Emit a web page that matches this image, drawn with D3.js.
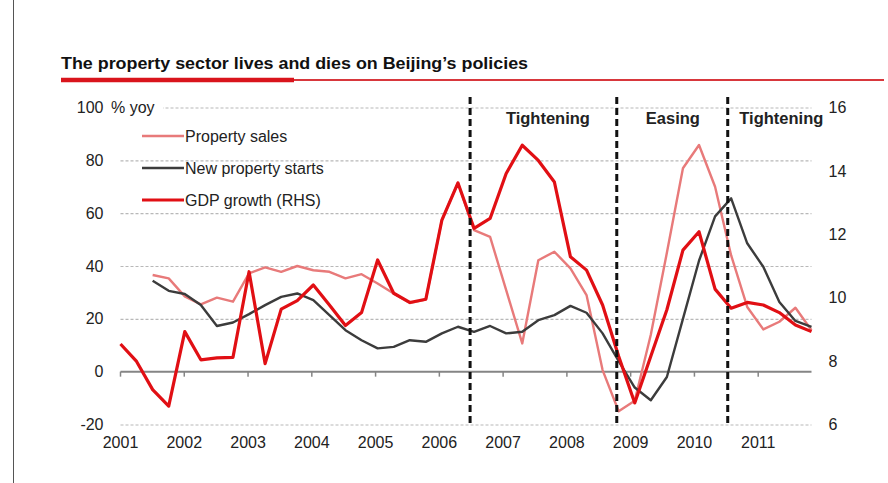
<!DOCTYPE html>
<html>
<head>
<meta charset="utf-8">
<title>The property sector lives and dies on Beijing's policies</title>
<script src="https://cdn.jsdelivr.net/npm/d3@7"></script>
<style>
  * { margin: 0; padding: 0; }
  body { background: #fff; }
  svg { display: block; font-family: "Liberation Sans", Arial, sans-serif; }
</style>
</head>
<body>
<div id="chart"></div>
<script>
    // Quarterly data, 2001Q1 - 2011Q4
    const years = [2001, 2002, 2003, 2004, 2005, 2006, 2007, 2008, 2009, 2010, 2011];
    const quarters = years.flatMap(y => ['Q1', 'Q2', 'Q3', 'Q4'].map(q => y + q));

    // Property sales, % yoy (LHS)
    const propertySales = [null, null, 36.6, 35.3, 28.5, 25.5, 28.0, 26.5,
        37.2, 39.5, 37.8, 40.0, 38.4, 37.8, 35.3, 36.9,
        33.4, 29.6, 26.0, 27.3, 57.4, 71.5, 53.6, 51.0,
        30.9, 10.7, 42.2, 45.4, 39.1, 29.0, 0.6, -15.0,
        -11.0, 14.0, 45.0, 77.0, 85.8, 70.0, 44.0, 24.5,
        16.0, 18.9, 24.2, 15.7];

    // New property starts, % yoy (LHS)
    const propertyStarts = [null, null, 34.4, 30.6, 29.4, 25.2, 17.3, 18.6,
        21.8, 25.2, 28.3, 29.6, 27.1, 21.4, 15.7, 11.9,
        8.8, 9.4, 11.9, 11.3, 14.5, 17.0, 15.1, 17.3,
        14.5, 15.1, 19.5, 21.4, 24.9, 22.3, 14.5, 4.0,
        -6.0, -10.8, -2.0, 20.0, 42.0, 58.8, 65.6, 48.6,
        39.7, 26.4, 19.2, 17.0];

    // GDP growth, % yoy (RHS)
    const gdpGrowth = [8.54, 7.99, 7.10, 6.58, 8.93, 8.04, 8.10, 8.12,
        10.82, 7.92, 9.64, 9.91, 10.40, 9.77, 9.12, 9.53,
        11.19, 10.14, 9.85, 9.95, 12.45, 13.62, 12.19, 12.50,
        13.92, 14.81, 14.33, 13.65, 11.29, 10.87, 9.77, 8.15,
        6.68, 8.15, 9.62, 11.50, 12.08, 10.27, 9.67, 9.85,
        9.77, 9.53, 9.14, 8.93];

    const leftTicks = [-20, 0, 20, 40, 60, 80, 100];
    const rightTicks = [6, 8, 10, 12, 14, 16];

    // policy regime changes and their labels
    const policyBreaks = [2006.49, 2008.79, 2010.53];
    const phaseLabels = ['Tightening', 'Easing', 'Tightening'];
    const phaseCentres = [2007.71, 2009.67, 2011.37];

    const series = [
        { name: 'Property sales', values: propertySales, axis: 'left', color: '#e87a7a', width: 2.4 },
        { name: 'New property starts', values: propertyStarts, axis: 'left', color: '#3c3c3c', width: 2.4 },
        { name: 'GDP growth (RHS)', values: gdpGrowth, axis: 'right', color: '#e10f14', width: 3.2 }
    ];

    const width = 888, height = 483;
    const plot = { left: 120.5, right: 811.5, top: 107.5, bottom: 424.5 };

    const svg = d3.select('#chart').append('svg')
        .attr('width', width)
        .attr('height', height);

    svg.append('rect').attr('width', width).attr('height', height).attr('fill', '#fff');

    // frame line on the left edge of the scan
    svg.append('line')
        .attr('x1', 13.5).attr('x2', 13.5).attr('y1', 0).attr('y2', height)
        .attr('stroke', '#555').attr('stroke-width', 1);

    // Title + red rule
    svg.append('text')
        .attr('x', 61).attr('y', 69)
        .attr('font-size', 16).attr('font-weight', 'bold')
        .attr('textLength', 467).attr('lengthAdjust', 'spacingAndGlyphs')
        .attr('fill', '#111')
        .text("The property sector lives and dies on Beijing\u2019s policies");
    svg.append('line')
        .attr('x1', 294).attr('x2', 884).attr('y1', 80).attr('y2', 80)
        .attr('stroke', '#d8373c').attr('stroke-width', 2);
    svg.append('line')
        .attr('x1', 61).attr('x2', 294).attr('y1', 80).attr('y2', 80)
        .attr('stroke', '#d9141c').attr('stroke-width', 4.5);

    // Scales
    const x = d3.scalePoint().domain(quarters).range([plot.left, plot.right]);
    const xYear = d3.scaleLinear().domain([2001, 2011]).range([120, 757.7]);
    const yL = d3.scaleLinear().domain([-20, 100]).range([plot.bottom, plot.top]);
    const yR = d3.scaleLinear().domain([6, 16]).range([plot.bottom, plot.top]);

    const plain = d => String(d); // keeps the ascii hyphen for negatives

    // Dashed gridlines (not at zero)
    const grid = svg.append('g')
        .attr('transform', 'translate(' + plot.left + ',0)')
        .call(d3.axisLeft(yL).tickValues(leftTicks.filter(d => d !== 0))
            .tickSize(-(plot.right - plot.left)).tickFormat(''));
    grid.select('.domain').remove();
    grid.selectAll('.tick line')
        .attr('stroke', '#b8b8b8').attr('stroke-width', 1.2).attr('stroke-dasharray', '3,2');

    // zero line with year tick marks
    const zeroAxis = svg.append('g')
        .attr('transform', 'translate(0,' + yL(0) + ')')
        .call(d3.axisBottom(xYear).tickValues(years).tickSize(5).tickSizeOuter(0).tickFormat(''));
    zeroAxis.select('.domain')
        .attr('d', 'M' + plot.left + ',0H' + plot.right)
        .attr('stroke', '#858585').attr('stroke-width', 2);
    zeroAxis.selectAll('.tick line').attr('stroke', '#858585').attr('stroke-width', 1.5);

    // Year labels
    const yearAxis = svg.append('g')
        .attr('transform', 'translate(0,' + (plot.bottom + 9) + ')')
        .call(d3.axisBottom(xYear).tickValues(years).tickSize(0).tickFormat(plain));
    yearAxis.select('.domain').remove();
    yearAxis.selectAll('text')
        .attr('font-size', 16).attr('fill', '#222').attr('font-family', null);

    // Left axis labels
    const leftAxis = svg.append('g')
        .attr('transform', 'translate(' + plot.left + ',0)')
        .call(d3.axisLeft(yL).tickValues(leftTicks).tickSize(0).tickPadding(17).tickFormat(plain));
    leftAxis.select('.domain').remove();
    leftAxis.selectAll('text').attr('font-size', 16).attr('fill', '#222').attr('font-family', null);

    // Right axis labels
    const rightAxis = svg.append('g')
        .attr('transform', 'translate(' + plot.right + ',0)')
        .call(d3.axisRight(yR).tickValues(rightTicks).tickSize(0).tickPadding(17).tickFormat(plain));
    rightAxis.select('.domain').remove();
    rightAxis.selectAll('text').attr('font-size', 16).attr('fill', '#222').attr('font-family', null);

    // unit label, masks the top gridline behind it
    svg.append('rect')
        .attr('x', 108).attr('y', 98).attr('width', 55).attr('height', 20).attr('fill', '#fff');
    svg.append('text')
        .attr('x', 111).attr('y', yL(100) + 5.5)
        .attr('font-size', 16).attr('fill', '#222')
        .text('% yoy');

    // Lines
    series.forEach(function(s) {
        const yScale = s.axis === 'left' ? yL : yR;
        const line = d3.line()
            .defined(d => d != null)
            .x((d, i) => x(quarters[i]))
            .y(d => yScale(d));
        svg.append('path')
            .datum(s.values)
            .attr('d', line)
            .attr('fill', 'none')
            .attr('stroke', s.color)
            .attr('stroke-width', s.width)
            .attr('stroke-linejoin', 'round');
    });

    // Policy break lines
    svg.selectAll('.policy')
        .data(policyBreaks)
        .enter()
        .append('line')
        .attr('class', 'policy')
        .attr('x1', d => xYear(d)).attr('x2', d => xYear(d))
        .attr('y1', 97).attr('y2', plot.bottom)
        .attr('stroke', '#111')
        .attr('stroke-width', 3)
        .attr('stroke-dasharray', '7,4');

    svg.selectAll('.phase')
        .data(phaseLabels)
        .enter()
        .append('text')
        .attr('class', 'phase')
        .attr('x', (d, i) => xYear(phaseCentres[i]))
        .attr('y', 124)
        .attr('text-anchor', 'middle')
        .attr('font-size', 16.5)
        .attr('font-weight', 'bold')
        .attr('fill', '#222')
        .text(d => d);

    // Legend
    const legend = svg.append('g').attr('transform', 'translate(142,136)');
    series.forEach(function(s, i) {
        const row = legend.append('g').attr('transform', 'translate(0,' + (i * 32) + ')');
        row.append('line')
            .attr('x1', 0).attr('x2', 42).attr('y1', 0).attr('y2', 0)
            .attr('stroke', s.color).attr('stroke-width', s.width);
        row.append('text')
            .attr('x', 43).attr('y', 5.5)
            .attr('font-size', 16).attr('fill', '#222')
            .text(s.name);
    });
</script>
</body>
</html>
